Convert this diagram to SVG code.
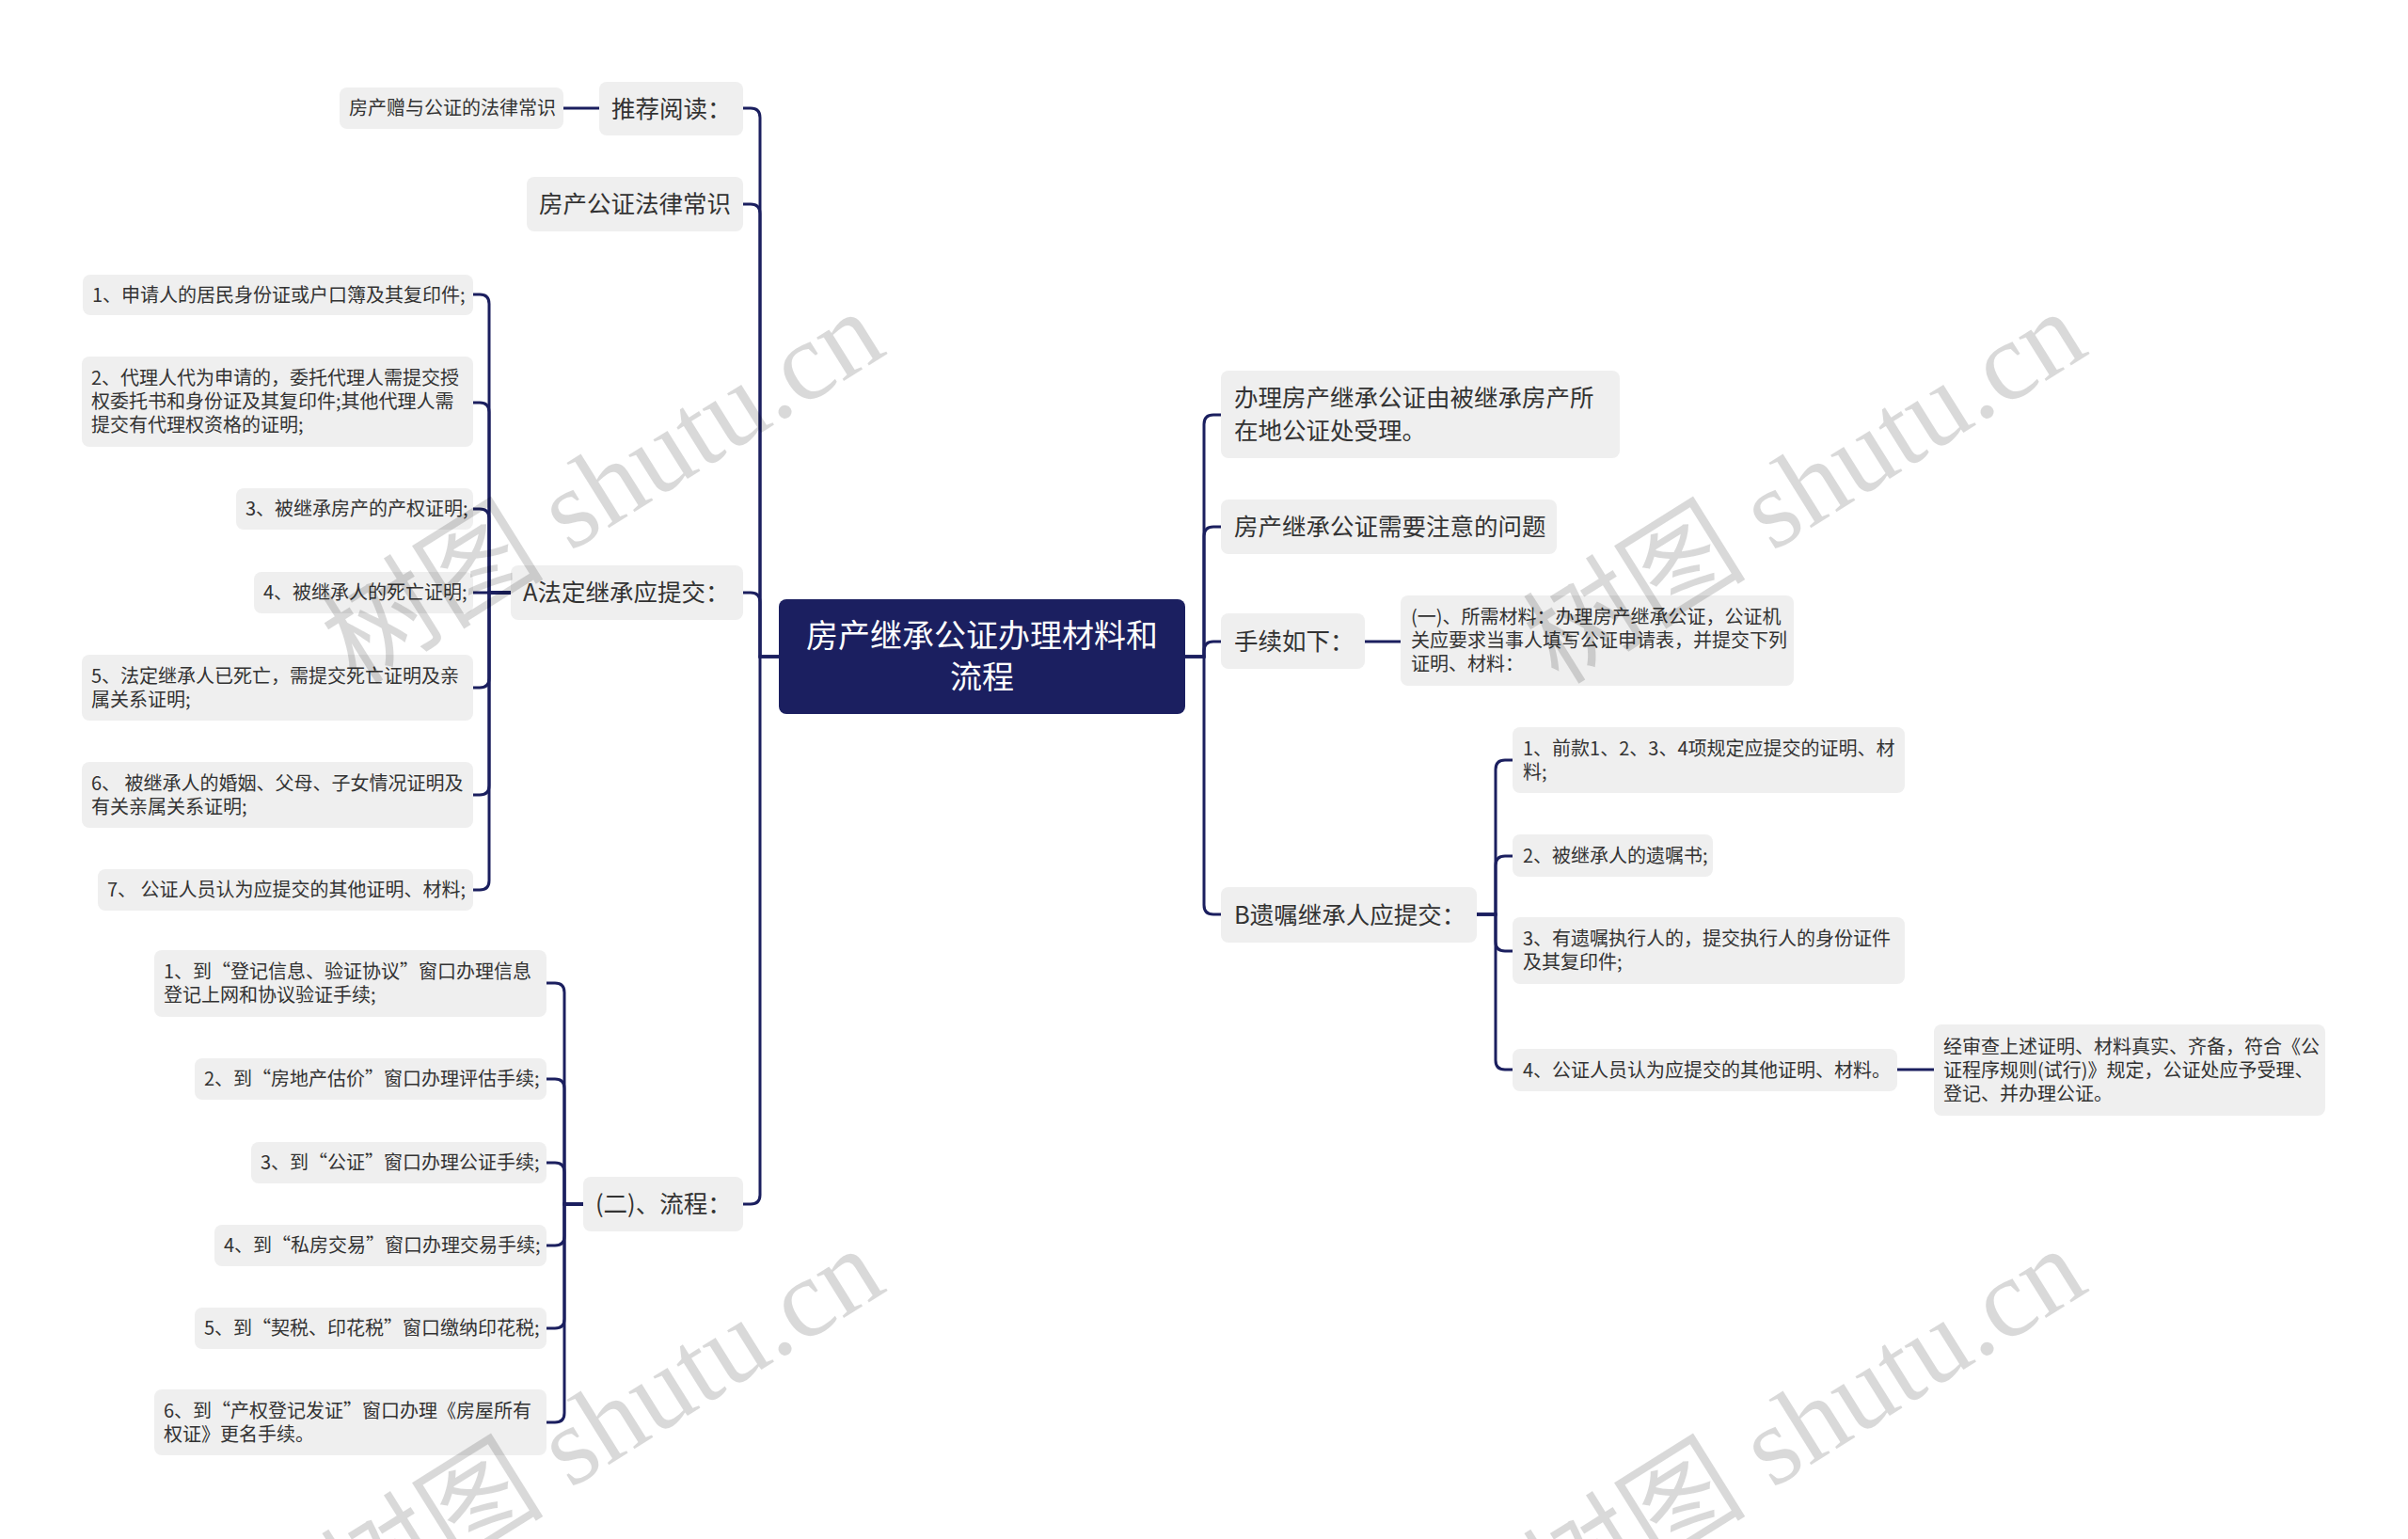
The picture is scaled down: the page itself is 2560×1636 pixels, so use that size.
<svg xmlns="http://www.w3.org/2000/svg" width="2560" height="1636" viewBox="0 0 2560 1636">
<style>
.node rect{fill:#efefef}
.t{font-family:"Noto Sans CJK SC","Noto Sans",sans-serif;fill:#333}
.s20{font-size:20px}
.s26{font-size:25.5px}
.root rect{fill:#1b1f60}
.root text{font-family:"Noto Sans CJK SC","Noto Sans",sans-serif;fill:#fff;font-size:34px;text-anchor:middle}
.conn path{fill:none;stroke:#1b1f5f;stroke-width:3}
.wm{font-family:"Liberation Serif","Noto Sans CJK SC",serif;font-size:119px;fill:#000;fill-opacity:0.15;text-anchor:middle}
</style>
<rect width="2560" height="1636" fill="#fff"/>
<g class="conn">
<path d="M828 698 H808 V125 Q808 115 798 115 H790"/>
<path d="M828 698 H808 V227 Q808 217 798 217 H790"/>
<path d="M828 698 H808 V640 Q808 630 798 630 H790"/>
<path d="M828 698 H808 V1270 Q808 1280 798 1280 H790"/>
<path d="M1260 698 H1280 V451 Q1280 441 1290 441 H1298"/>
<path d="M1260 698 H1280 V570 Q1280 560 1290 560 H1298"/>
<path d="M1260 698 H1280 V692 Q1280 682 1290 682 H1298"/>
<path d="M1260 698 H1280 V962 Q1280 972 1290 972 H1298"/>
<path d="M543 630 H520 V323 Q520 313 510 313 H503"/>
<path d="M543 630 H520 V438 Q520 428 510 428 H503"/>
<path d="M543 630 H520 V551 Q520 541 510 541 H503"/>
<path d="M543 630 H503"/>
<path d="M543 630 H520 V721 Q520 731 510 731 H503"/>
<path d="M543 630 H520 V835 Q520 845 510 845 H503"/>
<path d="M543 630 H520 V936 Q520 946 510 946 H503"/>
<path d="M620 1280 H600 V1055 Q600 1045 590 1045 H581"/>
<path d="M620 1280 H600 V1157 Q600 1147 590 1147 H581"/>
<path d="M620 1280 H600 V1246 Q600 1236 590 1236 H581"/>
<path d="M620 1280 H600 V1314 Q600 1324 590 1324 H581"/>
<path d="M620 1280 H600 V1402 Q600 1412 590 1412 H581"/>
<path d="M620 1280 H600 V1502 Q600 1512 590 1512 H581"/>
<path d="M1570 972 H1590 V818 Q1590 808 1600 808 H1608"/>
<path d="M1570 972 H1590 V920 Q1590 910 1600 910 H1608"/>
<path d="M1570 972 H1590 V1001 Q1590 1011 1600 1011 H1608"/>
<path d="M1570 972 H1590 V1127 Q1590 1137 1600 1137 H1608"/>
<path d="M599 115 H637"/>
<path d="M1451 682 H1489"/>
<path d="M2017 1137 H2056"/>
</g>
<g id="root" class="root"><rect x="828" y="637" width="432" height="122" rx="8"/><text x="1044" y="688">房产继承公证办理材料和</text><text x="1044" y="732">流程</text></g>
<g id="n-tuijian" class="node"><rect x="637" y="87" width="153" height="57" rx="8"/><text class="t s26" x="650" y="124.5">推荐阅读：</text></g>
<g id="n-zengyu" class="node"><rect x="361" y="93" width="238" height="44" rx="8"/><text class="t s20" x="371" y="122">房产赠与公证的法律常识</text></g>
<g id="n-fcgz" class="node"><rect x="560" y="188" width="230" height="58" rx="8"/><text class="t s26" x="573" y="226">房产公证法律常识</text></g>
<g id="n-A" class="node"><rect x="543" y="601" width="247" height="58" rx="8"/><text class="t s26" x="556" y="639">A法定继承应提交：</text></g>
<g id="n-liucheng" class="node"><rect x="620" y="1251" width="170" height="58" rx="8"/><text class="t s26" x="633" y="1289">(二)、流程：</text></g>
<g id="a1" class="node"><rect x="88" y="292" width="415" height="43" rx="8"/><text class="t s20" x="98" y="320.5">1、申请人的居民身份证或户口簿及其复印件;</text></g>
<g id="a2" class="node"><rect x="87" y="379" width="416" height="96" rx="8"/><text class="t s20" x="97" y="409">2、代理人代为申请的，委托代理人需提交授</text><text class="t s20" x="97" y="434">权委托书和身份证及其复印件;其他代理人需</text><text class="t s20" x="97" y="459">提交有代理权资格的证明;</text></g>
<g id="a3" class="node"><rect x="251" y="519" width="252" height="44" rx="8"/><text class="t s20" x="261" y="548">3、被继承房产的产权证明;</text></g>
<g id="a4" class="node"><rect x="270" y="608" width="233" height="44" rx="8"/><text class="t s20" x="280" y="637">4、被继承人的死亡证明;</text></g>
<g id="a5" class="node"><rect x="87" y="696" width="416" height="70" rx="8"/><text class="t s20" x="97" y="725.5">5、法定继承人已死亡，需提交死亡证明及亲</text><text class="t s20" x="97" y="750.5">属关系证明;</text></g>
<g id="a6" class="node"><rect x="87" y="810" width="416" height="70" rx="8"/><text class="t s20" x="97" y="839.5">6、 被继承人的婚姻、父母、子女情况证明及</text><text class="t s20" x="97" y="864.5">有关亲属关系证明;</text></g>
<g id="a7" class="node"><rect x="104" y="924" width="399" height="44" rx="8"/><text class="t s20" x="114" y="953">7、 公证人员认为应提交的其他证明、材料;</text></g>
<g id="f1" class="node"><rect x="164" y="1010" width="417" height="71" rx="8"/><text class="t s20" x="174" y="1040">1、到“登记信息、验证协议”窗口办理信息</text><text class="t s20" x="174" y="1065">登记上网和协议验证手续;</text></g>
<g id="f2" class="node"><rect x="207" y="1125" width="374" height="44" rx="8"/><text class="t s20" x="217" y="1154">2、到“房地产估价”窗口办理评估手续;</text></g>
<g id="f3" class="node"><rect x="267" y="1214" width="314" height="44" rx="8"/><text class="t s20" x="277" y="1243">3、到“公证”窗口办理公证手续;</text></g>
<g id="f4" class="node"><rect x="228" y="1302" width="353" height="44" rx="8"/><text class="t s20" x="238" y="1331">4、到“私房交易”窗口办理交易手续;</text></g>
<g id="f5" class="node"><rect x="207" y="1390" width="374" height="44" rx="8"/><text class="t s20" x="217" y="1419">5、到“契税、印花税”窗口缴纳印花税;</text></g>
<g id="f6" class="node"><rect x="164" y="1477" width="417" height="70" rx="8"/><text class="t s20" x="174" y="1506.5">6、到“产权登记发证”窗口办理《房屋所有</text><text class="t s20" x="174" y="1531.5">权证》更名手续。</text></g>
<g id="r1" class="node"><rect x="1298" y="394" width="424" height="93" rx="8"/><text class="t s26" x="1312" y="432">办理房产继承公证由被继承房产所</text><text class="t s26" x="1312" y="467">在地公证处受理。</text></g>
<g id="r2" class="node"><rect x="1298" y="531" width="357" height="58" rx="8"/><text class="t s26" x="1312" y="569">房产继承公证需要注意的问题</text></g>
<g id="r3" class="node"><rect x="1298" y="652" width="153" height="59" rx="8"/><text class="t s26" x="1312" y="690.5">手续如下：</text></g>
<g id="r3a" class="node"><rect x="1489" y="633" width="418" height="96" rx="8"/><text class="t s20" x="1500" y="663">(一)、所需材料：办理房产继承公证，公证机</text><text class="t s20" x="1500" y="688">关应要求当事人填写公证申请表，并提交下列</text><text class="t s20" x="1500" y="713">证明、材料：</text></g>
<g id="rB" class="node"><rect x="1298" y="943" width="272" height="59" rx="8"/><text class="t s26" x="1312" y="981.5">B遗嘱继承人应提交：</text></g>
<g id="b1" class="node"><rect x="1608" y="773" width="417" height="70" rx="8"/><text class="t s20" x="1619" y="802.5">1、前款1、2、3、4项规定应提交的证明、材</text><text class="t s20" x="1619" y="827.5">料;</text></g>
<g id="b2" class="node"><rect x="1608" y="887" width="213" height="45" rx="8"/><text class="t s20" x="1619" y="916.5">2、被继承人的遗嘱书;</text></g>
<g id="b3" class="node"><rect x="1608" y="975" width="417" height="71" rx="8"/><text class="t s20" x="1619" y="1005">3、有遗嘱执行人的，提交执行人的身份证件</text><text class="t s20" x="1619" y="1030">及其复印件;</text></g>
<g id="b4" class="node"><rect x="1608" y="1115" width="409" height="45" rx="8"/><text class="t s20" x="1619" y="1144.5">4、公证人员认为应提交的其他证明、材料。</text></g>
<g id="b5" class="node"><rect x="2056" y="1089" width="416" height="97" rx="8"/><text class="t s20" x="2066" y="1119.5">经审查上述证明、材料真实、齐备，符合《公</text><text class="t s20" x="2066" y="1144.5">证程序规则(试行)》规定，公证处应予受理、</text><text class="t s20" x="2066" y="1169.5">登记、并办理公证。</text></g>
<g id="watermarks">
<text class="wm" transform="translate(662,552) rotate(-32)">树图 shutu.cn</text>
<text class="wm" transform="translate(1940,552) rotate(-32)">树图 shutu.cn</text>
<text class="wm" transform="translate(662,1548) rotate(-32)">树图 shutu.cn</text>
<text class="wm" transform="translate(1940,1548) rotate(-32)">树图 shutu.cn</text>
</g>
</svg>
